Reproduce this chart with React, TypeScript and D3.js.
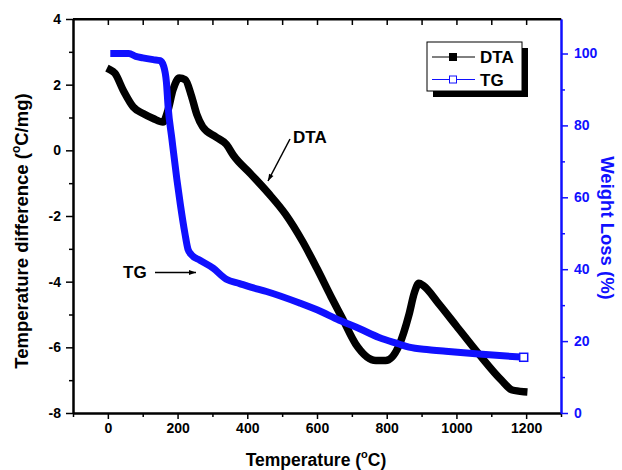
import { useEffect, useRef } from 'react';
import * as d3 from 'd3';

// DTA / TG thermal analysis curves
const dtaTemp = [7, 20, 44, 73, 101, 130, 158, 172, 187, 205, 222, 240, 255, 272, 311, 340, 360, 410, 460, 510, 560, 600, 640, 672, 711, 769, 797, 835, 864, 879, 892, 905, 949, 1000, 1064, 1129, 1160, 1193];
const dtaValue = [2.45, 2.35, 1.83, 1.32, 1.12, 0.97, 0.86, 1.2, 1.85, 2.2, 2.15, 1.65, 1.1, 0.72, 0.4, 0.18, -0.15, -0.72, -1.3, -1.95, -2.8, -3.6, -4.45, -5.1, -5.9, -6.4, -6.4, -5.95, -5.0, -4.35, -4.05, -4.12, -4.67, -5.35, -6.2, -7.0, -7.3, -7.35];

const tgTemp = [7, 60, 80, 100, 130, 150, 160, 168, 173, 184, 198, 208, 221, 230, 240, 264, 302, 340, 378, 410, 455, 550, 600, 664, 721, 778, 835, 864, 921, 969, 1064, 1193];
const tgWeight = [100, 100, 99.2, 98.8, 98.3, 98, 96.5, 92, 85, 76, 65, 58, 50, 45.5, 44, 42.5, 40.3, 37.2, 36, 35, 33.8, 30.6, 28.7, 25.8, 23.5, 21, 19.2, 18.3, 17.6, 17.2, 16.4, 15.5];

const xMajor = [0, 200, 400, 600, 800, 1000, 1200];
const xMinor = [-100, 100, 300, 500, 700, 900, 1100, 1300];
const yLeftMajor = [-8, -6, -4, -2, 0, 2, 4];
const yLeftMinor = [-7, -5, -3, -1, 1, 3];
const yRightMajor = [0, 20, 40, 60, 80, 100];
const yRightMinor = [10, 30, 50, 70, 90];

const seriesNames = ['DTA', 'TG'];
const BLUE = '#1010ff';
const FONT = 'Arial, "Liberation Sans", sans-serif';

export default function App() {
  const svgRef = useRef<SVGSVGElement>(null);

  useEffect(() => {
    const width = 622;
    const height = 470;
    const plot = { left: 73, right: 561, top: 19, bottom: 413 };

    const svg = d3.select(svgRef.current);
    svg.selectAll('*').remove();
    svg.attr('viewBox', `0 0 ${width} ${height}`);

    const x = d3.scaleLinear().domain([-100, 1300]).range([plot.left, plot.right]);
    const yL = d3.scaleLinear().domain([-8, 4]).range([plot.bottom, plot.top]);
    const yR = d3.scaleLinear().domain([0, 109.6]).range([plot.bottom, plot.top]);

    svg.append('rect').attr('width', width).attr('height', height).attr('fill', '#fff');

    const defs = svg.append('defs');
    defs.append('marker')
      .attr('id', 'arrow')
      .attr('viewBox', '0 0 10 10')
      .attr('refX', 10).attr('refY', 5)
      .attr('markerWidth', 9).attr('markerHeight', 7)
      .attr('markerUnits', 'userSpaceOnUse')
      .attr('orient', 'auto')
      .append('path')
      .attr('d', 'M0,1.5 L10,5 L0,8.5 Z')
      .attr('fill', '#000');

    const styleAxis = (g: any, color: string) => {
      g.select('.domain').attr('stroke', color).attr('stroke-width', 2);
      g.selectAll('.tick line').attr('stroke', color).attr('stroke-width', 1.5);
      g.selectAll('.tick text')
        .attr('fill', color)
        .style('font-family', FONT)
        .style('font-size', '14px')
        .style('font-weight', 'bold');
    };

    // bottom axis
    const gb = svg.append('g').attr('transform', `translate(0,${plot.bottom})`)
      .call(d3.axisBottom(x).tickValues(xMajor).tickSize(6).tickSizeOuter(0).tickPadding(4).tickFormat(d3.format('d')));
    styleAxis(gb, '#000');
    const gbm = svg.append('g').attr('transform', `translate(0,${plot.bottom})`)
      .call(d3.axisBottom(x).tickValues(xMinor).tickSize(4).tickSizeOuter(0).tickFormat(() => ''));
    styleAxis(gbm, '#000');

    // top axis, ticks pointing inward
    const gt = svg.append('g').attr('transform', `translate(0,${plot.top})`)
      .call(d3.axisBottom(x).tickValues([...xMajor, ...xMinor.slice(1, -1)]).tickSize(6).tickSizeOuter(0).tickFormat(() => ''));
    styleAxis(gt, '#000');

    // left axis
    const gl = svg.append('g').attr('transform', `translate(${plot.left},0)`)
      .call(d3.axisLeft(yL).tickValues(yLeftMajor).tickSize(7).tickSizeOuter(0).tickPadding(5).tickFormat(d3.format('d')));
    styleAxis(gl, '#000');
    gl.selectAll('.tick text').text((d: any) => (d < 0 ? '-' + Math.abs(d) : String(d)));
    const glm = svg.append('g').attr('transform', `translate(${plot.left},0)`)
      .call(d3.axisLeft(yL).tickValues(yLeftMinor).tickSize(4).tickSizeOuter(0).tickFormat(() => ''));
    styleAxis(glm, '#000');

    // right axis (weight loss)
    const gr = svg.append('g').attr('transform', `translate(${plot.right},0)`)
      .call(d3.axisRight(yR).tickValues(yRightMajor).tickSize(7).tickSizeOuter(0).tickPadding(6).tickFormat(d3.format('d')));
    styleAxis(gr, BLUE);
    const grm = svg.append('g').attr('transform', `translate(${plot.right},0)`)
      .call(d3.axisRight(yR).tickValues(yRightMinor).tickSize(4).tickSizeOuter(0).tickFormat(() => ''));
    styleAxis(grm, BLUE);

    // frame: top line, right line drawn blue by axis
    svg.append('line').attr('x1', plot.left).attr('x2', plot.right).attr('y1', plot.top).attr('y2', plot.top)
      .attr('stroke', '#000').attr('stroke-width', 2);

    const dtaData = dtaTemp.map((t, i) => [t, dtaValue[i]] as [number, number]);
    const tgData = tgTemp.map((t, i) => [t, tgWeight[i]] as [number, number]);

    const dtaLine = d3.line<[number, number]>()
      .x((d) => x(d[0])).y((d) => yL(d[1]))
      .curve(d3.curveMonotoneX);
    const tgLine = d3.line<[number, number]>()
      .x((d) => x(d[0])).y((d) => yR(d[1]))
      .curve(d3.curveMonotoneX);

    svg.append('path').attr('d', dtaLine(dtaData))
      .attr('fill', 'none').attr('stroke', '#000').attr('stroke-width', 7.5)
      .attr('stroke-linejoin', 'round').attr('stroke-linecap', 'square');

    svg.append('path').attr('d', tgLine(tgData))
      .attr('fill', 'none').attr('stroke', BLUE).attr('stroke-width', 7)
      .attr('stroke-linejoin', 'round').attr('stroke-linecap', 'butt');

    const last = tgData[tgData.length - 1];
    svg.append('rect')
      .attr('x', x(last[0]) - 4).attr('y', yR(last[1]) - 4)
      .attr('width', 8).attr('height', 8)
      .attr('fill', '#fff').attr('stroke', BLUE).attr('stroke-width', 1.5);

    // legend with drop shadow
    const lg = svg.append('g').attr('transform', 'translate(427,42)');
    lg.append('rect').attr('x', 6).attr('y', 6).attr('width', 95).attr('height', 49).attr('fill', '#000');
    lg.append('rect').attr('width', 95).attr('height', 49).attr('fill', '#fff').attr('stroke', '#000').attr('stroke-width', 1);
    seriesNames.forEach((name, i) => {
      const cy = 15 + i * 22.5;
      const color = i === 0 ? '#000' : BLUE;
      lg.append('line').attr('x1', 5).attr('x2', 48).attr('y1', cy).attr('y2', cy)
        .attr('stroke', color).attr('stroke-width', 1);
      lg.append('rect').attr('x', 22.5).attr('y', cy - 3.5).attr('width', 7).attr('height', 7)
        .attr('fill', i === 0 ? '#000' : '#fff').attr('stroke', color).attr('stroke-width', 1);
      lg.append('text').attr('x', 53).attr('y', cy + 6).text(name)
        .style('font-family', FONT).style('font-size', '17px').style('font-weight', 'bold');
    });

    // annotations
    svg.append('text').attr('x', 293).attr('y', 143).text('DTA')
      .style('font-family', FONT).style('font-size', '17px').style('font-weight', 'bold');
    svg.append('line').attr('x1', 290).attr('y1', 139).attr('x2', 268).attr('y2', 181)
      .attr('stroke', '#000').attr('stroke-width', 1.5).attr('marker-end', 'url(#arrow)');

    svg.append('text').attr('x', 123).attr('y', 278).text('TG')
      .style('font-family', FONT).style('font-size', '17px').style('font-weight', 'bold');
    svg.append('line').attr('x1', 155).attr('y1', 272.5).attr('x2', 196).attr('y2', 272.5)
      .attr('stroke', '#000').attr('stroke-width', 1.5).attr('marker-end', 'url(#arrow)');

    // axis titles
    const bottomTitle = svg.append('text').attr('x', 316).attr('y', 466).attr('text-anchor', 'middle')
      .style('font-family', FONT).style('font-size', '17.5px').style('font-weight', 'bold');
    bottomTitle.append('tspan').text('Temperature (');
    bottomTitle.append('tspan').attr('dy', -8).style('font-size', '11px').text('o');
    bottomTitle.append('tspan').attr('dy', 8).text('C)');

    const leftTitle = svg.append('text').attr('transform', 'translate(28,231) rotate(-90)').attr('text-anchor', 'middle')
      .style('font-family', FONT).style('font-size', '18.5px').style('font-weight', 'bold');
    leftTitle.append('tspan').text('Temperature difference (');
    leftTitle.append('tspan').attr('dy', -8).style('font-size', '12px').text('o');
    leftTitle.append('tspan').attr('dy', 8).text('C/mg)');

    svg.append('text').attr('transform', 'translate(601,228) rotate(90)').attr('text-anchor', 'middle')
      .attr('fill', BLUE)
      .style('font-family', FONT).style('font-size', '18.5px').style('font-weight', 'bold')
      .text('Weight Loss (%)');
  }, []);

  return (
    <svg
      ref={svgRef}
      width={622}
      height={470}
      style={{ position: 'absolute', left: 0, top: 0 }}
    />
  );
}
